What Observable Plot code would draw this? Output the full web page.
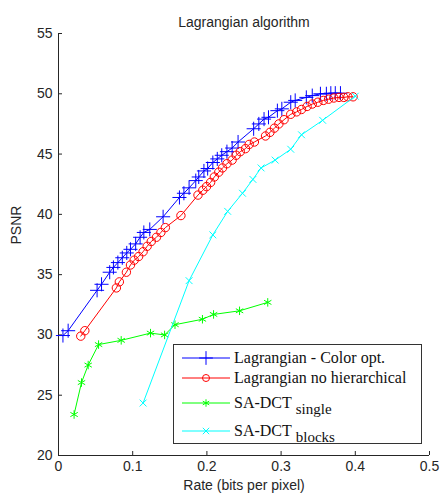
<!DOCTYPE html>
<html><head><meta charset="utf-8">
<script src="https://cdn.jsdelivr.net/npm/d3@7"></script>
<script src="https://cdn.jsdelivr.net/npm/@observablehq/plot@0.6"></script>
<style>body{margin:0;background:#fff}#chart{width:440px;height:497px}</style>
</head><body><div id="chart"></div>
<script>
const chartTitle = "Lagrangian algorithm";
const xLabel = "Rate (bits per pixel)";
const yLabel = "PSNR";
const xTicks = [0, 0.1, 0.2, 0.3, 0.4, 0.5];
const yTicks = [20, 25, 30, 35, 40, 45, 50, 55];

const seriesNames = ["Lagrangian - Color opt.", "Lagrangian no hierarchical", "SA-DCT", "SA-DCT"];
const seriesSubs = ["", "", "single", "blocks"];
const seriesColors = ["#0000ff", "#ff0000", "#00ff00", "#00ffff"];
const seriesSymbols = ["plus", "circle", "asterisk", "times"];

const colorOptRate = [0.006,0.013,0.052,0.058,0.069,0.074,0.080,0.086,0.092,0.097,0.104,0.110,0.115,0.123,0.141,0.163,0.169,0.176,0.185,0.189,0.196,0.201,0.208,0.214,0.220,0.227,0.234,0.242,0.263,0.270,0.277,0.283,0.295,0.301,0.313,0.319,0.334,0.342,0.353,0.361,0.367,0.373,0.380];
const colorOptPsnr = [29.95,30.35,33.7,34.2,35.2,35.6,36.0,36.4,36.8,37.1,37.55,38.1,38.5,38.75,39.8,41.4,41.75,42.2,42.8,43.1,43.6,43.8,44.3,44.6,44.9,45.2,45.5,46.0,47.1,47.5,47.9,48.05,48.6,48.75,49.3,49.45,49.7,49.85,50.0,50.0,50.05,50.05,50.05];

const noHierRate = [0.030,0.0355,0.078,0.082,0.0915,0.097,0.102,0.108,0.114,0.1195,0.125,0.132,0.138,0.144,0.165,0.188,0.1945,0.1995,0.205,0.210,0.216,0.221,0.227,0.234,0.2395,0.245,0.252,0.257,0.264,0.279,0.285,0.291,0.297,0.304,0.313,0.321,0.3275,0.335,0.342,0.3495,0.357,0.364,0.371,0.378,0.3845,0.390,0.397];
const noHierPsnr = [29.9,30.35,33.9,34.4,35.2,35.8,36.2,36.5,36.9,37.35,37.75,38.1,38.5,38.9,39.9,41.6,42.0,42.3,42.65,43.1,43.5,43.85,44.2,44.5,44.9,45.2,45.45,45.8,46.0,46.5,46.8,47.15,47.5,47.85,48.3,48.5,48.7,48.95,49.15,49.3,49.45,49.55,49.65,49.7,49.7,49.75,49.75];

const singleRate = [0.021,0.031,0.040,0.054,0.0845,0.124,0.143,0.157,0.194,0.209,0.244,0.282];
const singlePsnr = [23.4,26.05,27.5,29.2,29.55,30.15,30.0,30.85,31.3,31.7,32.0,32.7];

const blocksRate = [0.114,0.176,0.208,0.228,0.248,0.262,0.273,0.292,0.313,0.3275,0.356,0.400];
const blocksPsnr = [24.35,34.5,38.3,40.25,41.75,42.9,43.85,44.5,45.4,46.6,47.8,49.8];

const rates = [colorOptRate, noHierRate, singleRate, blocksRate];
const psnrs = [colorOptPsnr, noHierPsnr, singlePsnr, blocksPsnr];
const dotR = [4.6, 4.2, 4, 3.2];

const rows = rates.map((rs, i) => rs.map((r, j) => ({rate: r, psnr: psnrs[i][j], s: i})));

const fmt = d => d === 0 ? "0" : String(d);
const axisColor = "#262626";

const marks = [
  Plot.axisX({ticks: xTicks, tickFormat: fmt, tickSize: -4, tickPadding: 10, label: null, stroke: axisColor, fill: axisColor}),
  Plot.axisY({ticks: yTicks, tickSize: -4, tickPadding: 10, label: null, stroke: axisColor, fill: axisColor}),
  Plot.ruleX([0], {stroke: axisColor}),
  Plot.ruleY([20], {stroke: axisColor})
];
rows.forEach((data, i) => {
  marks.push(Plot.line(data, {x: "rate", y: "psnr", stroke: seriesColors[i], strokeWidth: 1}));
  marks.push(Plot.dot(data, {x: "rate", y: "psnr", symbol: seriesSymbols[i], r: dotR[i], stroke: seriesColors[i], fill: "none", strokeWidth: 1}));
});
marks.push(Plot.text([chartTitle], {text: d => d, frameAnchor: "top", dy: -16, fill: axisColor}));
marks.push(Plot.text([xLabel], {text: d => d, frameAnchor: "bottom", dy: 34, fill: axisColor}));
marks.push(Plot.text([yLabel], {text: d => d, frameAnchor: "left", dx: -42, rotate: -90, fill: axisColor}));

const svg = Plot.plot({
  width: 440, height: 497,
  marginLeft: 58, marginRight: 11, marginTop: 33, marginBottom: 42,
  style: {fontFamily: "'Liberation Sans', Arial, sans-serif", fontSize: "14px", background: "#fff", overflow: "visible"},
  x: {domain: [0, 0.5]},
  y: {domain: [20, 55]},
  marks
});

// legend box
const symMap = {plus: d3.symbolPlus, circle: d3.symbolCircle, asterisk: d3.symbolAsterisk, times: d3.symbolTimes};
const lg = d3.select(svg).append("g")
  .attr("font-family", "'Liberation Serif', 'Times New Roman', serif")
  .attr("font-size", 16).attr("text-anchor", "start");
lg.append("rect").attr("x", 173.5).attr("y", 344.5).attr("width", 248).attr("height", 99).attr("fill", "#fff").attr("stroke", "#333").attr("stroke-width", 1);
const rowY = [358, 378, 403, 431];
const legR = [4.5, 3.5, 3.5, 3];
seriesNames.forEach((name, i) => {
  const g = lg.append("g").attr("transform", `translate(0,${rowY[i]})`);
  g.append("line").attr("x1", 182).attr("x2", 230).attr("y1", 0).attr("y2", 0).attr("stroke", seriesColors[i]).attr("stroke-width", 1);
  g.append("path").attr("transform", "translate(206,0)").attr("d", d3.symbol(symMap[seriesSymbols[i]], Math.PI * legR[i] * legR[i])()).attr("fill", "none").attr("stroke", seriesColors[i]);
  const t = g.append("text").attr("x", 234).attr("y", 5).attr("fill", "#111").attr("text-anchor", "start").text(name);
  if (seriesSubs[i]) t.append("tspan").attr("dx", 4).attr("dy", 6).attr("font-size", 15).text(seriesSubs[i]);
});

document.getElementById("chart").append(svg);
</script>
</body></html>
